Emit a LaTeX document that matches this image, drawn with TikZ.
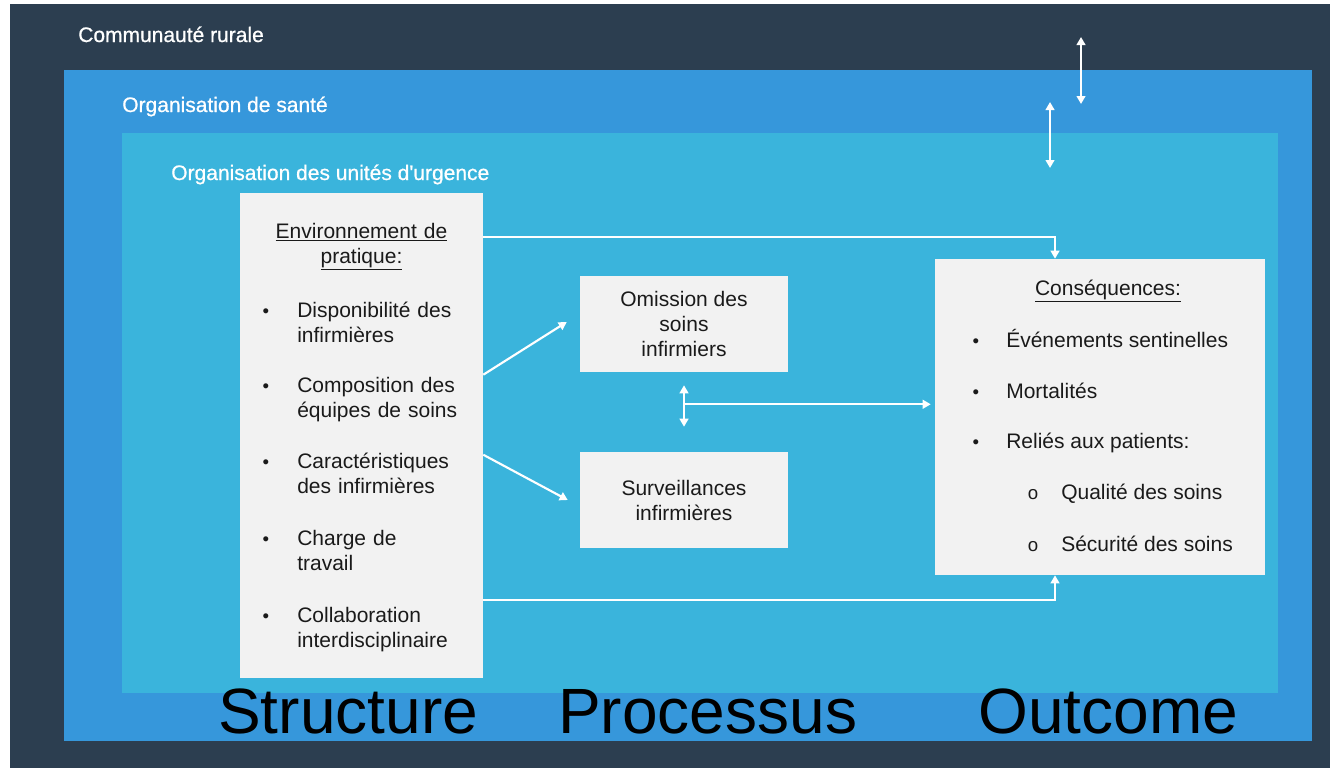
\documentclass[tikz,border=0pt]{standalone}
\usepackage{fontspec}
\setmainfont{Liberation Sans}
\newfontfamily\levelfont[FakeBold=0.7]{Liberation Sans}
\usetikzlibrary{arrows.meta,calc}
\definecolor{rural}{HTML}{2C3E50}
\definecolor{sante}{HTML}{3697DB}
\definecolor{urgence}{HTML}{3AB4DC}
\definecolor{boxbg}{HTML}{F2F2F2}
\definecolor{ink}{HTML}{1A1A1A}
\newcommand{\bodysize}{\fontsize{15.75pt}{18.75pt}\selectfont}
\newcommand{\dotsize}{\fontsize{14pt}{16pt}\selectfont}
\newcommand{\stagesize}{\fontsize{48pt}{56pt}\selectfont}
\tikzset{
  panel/.style={fill=boxbg, draw=none, inner sep=0pt, text=ink, font=\bodysize, align=center},
  levelLbl/.style={text=white, font=\levelfont\bodysize, inner sep=0pt, anchor=base west},
  bodyTxt/.style={text=ink, font=\bodysize, inner sep=0pt, anchor=base west, align=left},
  dotLbl/.style={text=ink, font=\dotsize, inner sep=0pt, anchor=base},
  stageLbl/.style={text=black, font=\stagesize, inner sep=0pt, anchor=base west},
  flow/.style={draw=white, line width=1.6pt, -{Triangle[length=6pt,width=6.5pt]}},
  flowBoth/.style={draw=white, line width=1.6pt, {Triangle[length=6pt,width=6.5pt]}-{Triangle[length=6pt,width=6.5pt]}},
}

\begin{document}
\begin{tikzpicture}[x=0.75pt, y=-0.75pt]
  \useasboundingbox (0,0) rectangle (1330,768);
  \fill[white] (0,0) rectangle (1330,768);

  % nested levels
  \fill[rural]   (10,4)    rectangle (1330,768);
  \fill[sante]   (64,70)   rectangle (1312,741);
  \fill[urgence] (122,133) rectangle (1278,693);

  \node[levelLbl] (lRural)   at (78,42)   {Communauté rurale};
  \node[levelLbl] (lSante)   at (122,112) {Organisation de santé};
  \node[levelLbl] (lUrgence) at (171,180) {Organisation des unités d'urgence};

  \coordinate (ruralTop) at (1081,37);
  \coordinate (santeTop) at (1081,104);
  \coordinate (santeIn)  at (1050,102);
  \coordinate (urgIn)    at (1050,168);
  \draw[flowBoth] (ruralTop) -- (santeTop);
  \draw[flowBoth] (santeIn) -- (urgIn);

  % boxes
  \node[panel, minimum width=182.25pt, minimum height=363.75pt] (env)  at (361.5,435.5) {};
  \node[panel, minimum width=156pt, minimum height=72pt]        (omis) at (684,324) {Omission des\\soins\\infirmiers};
  \node[panel, minimum width=156pt, minimum height=72pt]        (surv) at (684,500) {Surveillances\\infirmières};
  \node[panel, minimum width=247.5pt, minimum height=237pt]     (cons) at (1100,417) {};

  % structure
  \node[bodyTxt, anchor=base, align=center, text width=170pt] (envHead) at (361.5,238)
    {\underline{Environnement de}\\\underline{pratique:}};
  \foreach \yy/\lnA/\lnB [count=\i] in {317/Disponibilité des/infirmières,
      392/Composition des/équipes de soins, 468/Caractéristiques/des infirmières,
      545/Charge de/travail, 622/Collaboration/interdisciplinaire}{
    \node[dotLbl] (envDot\i) at (266,\yy) {\textbullet};
    \node[bodyTxt, text width=150pt] (envItem\i) at (297,\yy) {\lnA\\\lnB};
  }

  % outcome
  \node[bodyTxt, anchor=base] (consHead) at (1108,295) {\underline{Conséquences:}};
  \foreach \yy/\txt [count=\i] in {347/Événements sentinelles, 398/Mortalités,
      448/Reliés aux patients:}{
    \node[dotLbl] (consDot\i) at (976,\yy) {\textbullet};
    \node[bodyTxt] (consItem\i) at (1006,\yy) {\txt};
  }
  \foreach \yy/\txt [count=\i] in {499/Qualité des soins, 551/Sécurité des soins}{
    \node[dotLbl] (subDot\i) at (1033,\yy) {o};
    \node[bodyTxt] (subItem\i) at (1061,\yy) {\txt};
  }

  % links
  \draw[flow] ($(env.north east)+(0,44)$) -| ($(cons.north)+(-45,0)$);
  \draw[flow] ($(env.north east)+(0,407)$) -| ($(cons.south)+(-45,0)$);
  \draw[flow] ($(env.north east)+(0,182)$) -- ($(omis.west)+(-13,-2)$);
  \draw[flow] ($(env.north east)+(0,262)$) -- ($(surv.west)+(-12,0)$);
  \draw[flowBoth] ($(omis.south)+(0,13)$) -- ($(surv.north)+(0,-25)$);
  \coordinate (mid) at ($(omis.south)+(0,32)$);
  \draw[flow, shorten >=3pt] (mid) -- (mid -| cons.west);

  \node[stageLbl] (sStruct)  at (218,733) {Structure};
  \node[stageLbl] (sProc)    at (558,733) {Processus};
  \node[stageLbl] (sOutcome) at (978,733) {Outcome};
\end{tikzpicture}
\end{document}
